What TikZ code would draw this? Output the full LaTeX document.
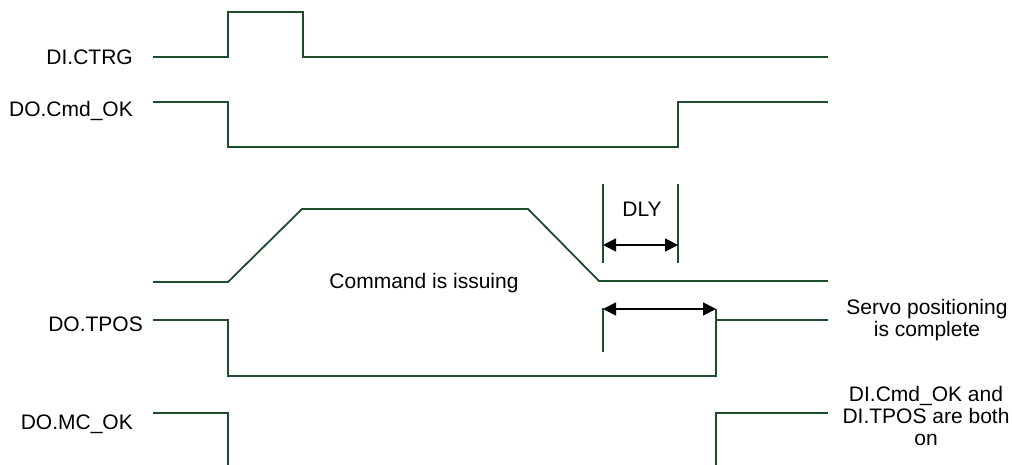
\documentclass[tikz,border=0pt]{standalone}
\usepackage{fontspec}
\setmainfont{Liberation Sans}
\usetikzlibrary{arrows.meta}
\definecolor{signal}{RGB}{30,77,43}
\tikzset{
  prubeh/.style={draw=signal,line width=1.8pt},
  mez/.style={draw=signal,line width=1.5pt},
  jmeno/.style={anchor=base east,inner sep=0pt,font=\fontsize{21}{22}\selectfont},
  popis/.style={inner sep=0pt,align=center,font=\fontsize{21}{22}\selectfont},
  kota/.style={<->,>={Triangle[length=13pt,width=13pt]},line width=1.8pt,black},
}

\begin{document}
\begin{tikzpicture}[x=1pt,y=-1pt]
  \useasboundingbox (0,0) rectangle (1012,465);
  % signal names
  \node[jmeno] (ctrg) at (133,65) {DI.CTRG};
  \node[jmeno] (cmdok) at (133,117) {DO.Cmd\_OK};
  \node[jmeno] (tpos) at (143,331) {DO.TPOS};
  \node[jmeno] (mcok) at (133,429) {DO.MC\_OK};
  % waveforms
  \draw[prubeh] (153,57) -- (228,57) -- (228,12) -- (303,12) -- (303,57) -- (828,57);
  \draw[prubeh] (153,102) -- (228,102) -- (228,147) -- (678,147) -- (678,102) -- (828,102);
  \draw[prubeh] (153,282) -- (228,282) -- (302,209) -- (528,209) -- (599,281) -- (828,281);
  \draw[prubeh] (153,320) -- (228,320) -- (228,376) -- (716,376) -- (716,309);
  \draw[prubeh] (716,320) -- (828,320);
  \draw[prubeh] (153,413) -- (228,413) -- (228,466);
  \draw[prubeh] (716,466) -- (716,413) -- (828,413);
  % delay marks
  \coordinate (dlyA) at (603,245);
  \coordinate (dlyB) at (678,245);
  \coordinate (posA) at (603,309);
  \coordinate (posB) at (716,309);
  \draw[mez] (603,184) -- (603,263);
  \draw[mez] (678,184) -- (678,263);
  \draw[mez] (603,308) -- (603,352);
  \draw[kota] (dlyA) -- (dlyB);
  \draw[kota] (posA) -- (posB);
  % texts
  \node[popis,anchor=base] (dly) at (642,217) {DLY};
  \node[popis,anchor=base] (prikaz) at (424,288) {Command is issuing};
  \node[popis] (servo) at (927,320) {Servo positioning\\is complete};
  \node[popis] (oboje) at (926,416) {DI.Cmd\_OK and\\DI.TPOS are both\\on};
\end{tikzpicture}
\end{document}
